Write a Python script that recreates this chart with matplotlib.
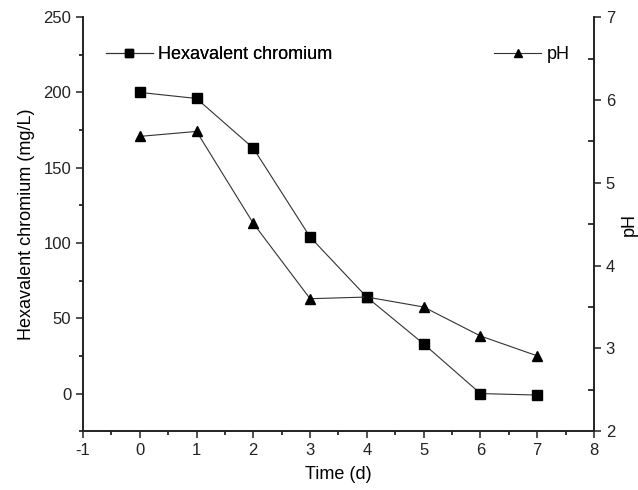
import matplotlib
matplotlib.use("Agg")
import matplotlib.pyplot as plt
from matplotlib.ticker import MultipleLocator

plt.rcParams['font.family'] = ['Liberation Sans', 'DejaVu Sans']
plt.rcParams['axes.unicode_minus'] = False

# data
days = [0, 1, 2, 3, 4, 5, 6, 7]
chromium = [200, 196, 163, 104, 64, 33, 0, -1]
ph = [5.56, 5.62, 4.51, 3.60, 3.62, 3.50, 3.15, 2.91]

fig = plt.figure(figsize=(6.38, 4.9), dpi=100)
ax = fig.add_axes([0.130, 0.120, 0.801, 0.845])
ax2 = ax.twinx()

l1, = ax.plot(days, chromium, '-', color='#333333', lw=0.8, marker='s',
              ms=6.5, mfc='black', mec='black', label='Hexavalent chromium')
l2, = ax2.plot(days, ph, '-', color='#333333', lw=0.8, marker='^',
               ms=7.5, mfc='black', mec='black', label='pH')

ax.set_xlim(-1, 8)
ax.set_ylim(-25, 250)
ax2.set_ylim(2, 7)

ax.xaxis.set_major_locator(MultipleLocator(1))
ax.xaxis.set_minor_locator(MultipleLocator(0.5))
ax.yaxis.set_major_locator(MultipleLocator(50))
ax.yaxis.set_minor_locator(MultipleLocator(25))
ax2.yaxis.set_major_locator(MultipleLocator(1))
ax2.yaxis.set_minor_locator(MultipleLocator(0.5))

for a in (ax, ax2):
    a.spines['top'].set_visible(False)
    for s in a.spines.values():
        s.set_linewidth(1.2)
        s.set_color('#222222')

ax.tick_params(which='major', direction='out', length=5, width=1.1, labelsize=12, colors='#222222')
ax.tick_params(which='minor', direction='out', length=3, width=1.1)
ax2.tick_params(which='major', direction='out', length=5, width=1.1, labelsize=12, colors='#222222')
ax2.tick_params(which='minor', direction='in', length=4, width=1.1)

ax.set_xlabel('Time (d)', fontsize=13, labelpad=6)
ax.set_ylabel('Hexavalent chromium (mg/L)', fontsize=13, labelpad=6)
ax2.set_ylabel('pH', fontsize=13, labelpad=4)

leg1 = ax.legend(handles=[l1], loc='center left', bbox_to_anchor=(0.045, 0.91),
                 frameon=False, fontsize=13, handlelength=2.6, handletextpad=0.3,
                 borderaxespad=0, borderpad=0, markerscale=0.85)
ax.add_artist(leg1)
ax2.legend(handles=[l2], loc='center left', bbox_to_anchor=(0.805, 0.91),
           frameon=False, fontsize=13, handlelength=2.6, handletextpad=0.3,
           borderaxespad=0, borderpad=0, markerscale=0.85)

fig.savefig('out.png', dpi=100)
